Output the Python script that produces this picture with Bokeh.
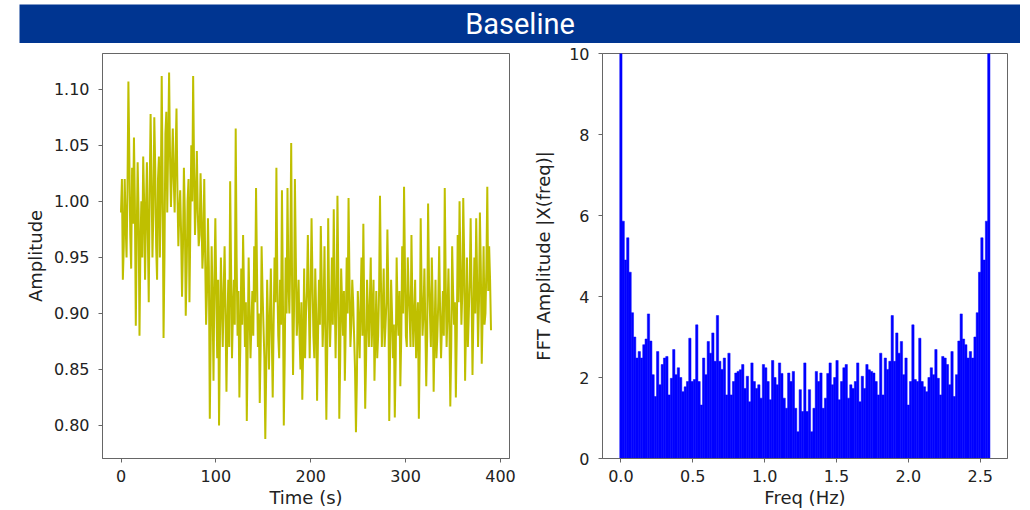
from bokeh.plotting import figure
from bokeh.layouts import column, row
from bokeh.models import Range1d, FixedTicker, PrintfTickFormatter
from bokeh.core.properties import value
from bokeh.embed import file_html
from bokeh.resources import INLINE

TITLE = "Baseline"
BANNER_COLOR = "#003591"
LINE_COLOR = "#bfbf00"
BAR_COLOR = "#0000ff"
TEXT_COLOR = "#222222"
FRAME_COLOR = "#666666"

# ---- time series (seconds, amplitude) ----
sample_step_s = 0.975
amplitude = [
    0.99, 1.02, 0.93, 0.96, 1.02, 0.98, 0.95, 1.01, 1.107, 1.04, 0.97, 0.94, 1.03, 0.98, 1.057, 1.00, 0.889, 0.97, 1.035, 0.99, 0.88, 0.96,
    1.00, 0.95, 1.04, 1.00, 0.93, 0.99, 1.035, 0.97, 0.91, 1.01, 1.078, 1.02, 0.95, 0.99, 1.075, 1.03, 0.96, 0.93, 1.02, 1.04,
    0.95, 1.00, 1.112, 1.02, 0.878, 0.95, 1.06, 1.08, 0.99, 1.05, 1.115, 1.04, 0.995, 1.03, 1.065, 1.02, 0.99, 1.04, 1.083, 1.01,
    0.96, 0.99, 1.01, 0.97, 0.915, 0.96, 1.03, 0.99, 0.898, 0.94, 1.00, 1.02, 0.91, 0.98, 1.05, 1.00, 1.112, 1.03, 0.97, 1.00,
    1.045, 0.99, 0.96, 0.97, 1.025, 0.99, 0.94, 0.96, 1.02, 0.95, 0.89, 0.92, 0.985, 0.94, 0.806, 0.88, 0.96, 0.91, 0.84, 0.93,
    0.985, 0.92, 0.86, 0.93, 0.80, 0.88, 0.95, 0.91, 0.87, 0.92, 0.96, 0.90, 0.83, 0.89, 0.93, 0.87, 1.018, 0.94, 0.86, 0.90,
    0.93, 0.89, 1.065, 0.95, 0.88, 0.92, 0.825, 0.87, 0.94, 0.89, 0.97, 0.92, 0.87, 0.91, 0.804, 0.87, 0.95, 0.90, 0.86, 0.89,
    0.92, 0.88, 0.96, 0.91, 1.012, 0.94, 0.87, 0.90, 0.82, 0.87, 0.96, 0.92, 0.89, 0.86, 0.788, 0.85, 0.93, 0.89, 0.85, 0.90,
    0.94, 0.88, 0.825, 0.89, 0.95, 0.91, 1.03, 0.93, 0.88, 0.86, 0.93, 0.89, 1.01, 0.92, 0.80, 0.86, 0.95, 0.90, 1.012, 0.93,
    0.90, 0.95, 1.052, 0.92, 0.845, 0.90, 1.02, 0.95, 0.88, 0.90, 0.93, 0.88, 0.85, 0.91, 0.823, 0.87, 0.94, 0.86, 0.90, 0.92,
    0.97, 0.91, 0.86, 0.92, 0.985, 0.93, 0.88, 0.86, 0.94, 0.90, 0.822, 0.88, 0.93, 0.89, 0.978, 0.93, 0.87, 0.90, 0.96, 0.88,
    0.805, 0.87, 0.985, 0.91, 0.87, 0.90, 0.95, 0.89, 0.993, 0.92, 0.86, 0.91, 1.005, 0.93, 0.806, 0.86, 0.94, 0.91, 0.88, 0.92,
    0.84, 0.89, 0.95, 0.90, 1.003, 0.93, 0.87, 0.89, 0.93, 0.91, 0.88, 0.85, 0.794, 0.84, 0.92, 0.89, 0.86, 0.91, 0.95, 0.88,
    0.98, 0.90, 0.815, 0.86, 0.93, 0.90, 0.87, 0.91, 0.95, 0.87, 0.90, 0.93, 0.84, 0.88, 0.92, 0.86, 0.88, 0.92, 1.005, 0.93,
    0.87, 0.90, 0.94, 0.87, 0.89, 0.91, 0.975, 0.92, 0.804, 0.87, 0.93, 0.90, 0.86, 0.89, 0.807, 0.86, 0.95, 0.90, 0.88, 0.92,
    0.835, 0.88, 0.96, 0.90, 1.013, 0.94, 0.88, 0.87, 0.95, 0.92, 0.90, 0.87, 0.97, 0.91, 0.87, 0.90, 0.93, 0.86, 0.89, 0.91,
    0.806, 0.87, 0.985, 0.92, 0.88, 0.90, 0.94, 0.89, 0.835, 0.88, 0.998, 0.93, 0.90, 0.87, 0.95, 0.91, 0.83, 0.88, 0.93, 0.86,
    0.88, 0.91, 0.96, 0.90, 0.86, 0.89, 0.92, 0.88, 1.012, 0.93, 0.87, 0.90, 0.94, 0.89, 0.817, 0.87, 0.96, 0.92, 0.89, 0.91,
    0.825, 0.88, 0.97, 0.91, 1.0, 0.94, 0.89, 0.92, 1.003, 0.95, 0.84, 0.89, 0.95, 0.87, 0.90, 0.93, 0.985, 0.92, 0.845, 0.90,
    0.95, 0.90, 0.985, 0.93, 0.87, 0.91, 0.99, 0.94, 0.855, 0.90, 0.96, 0.89, 0.90, 0.94, 1.013, 0.92, 0.96, 0.93, 0.885,
]
time_s = [i * sample_step_s for i in range(len(amplitude))]

time_ticks = [0, 100, 200, 300, 400]
amp_ticks = [0.80, 0.85, 0.90, 0.95, 1.00, 1.05, 1.10]

# ---- FFT magnitude (Hz, |X(freq)|) ----
freq_step_hz = 0.016
fft_amp = [
    12.0, 5.86, 4.9, 5.45, 4.6, 3.6, 3.0, 2.48, 2.64, 2.48,
    2.81, 2.95, 3.57, 2.9, 2.07, 1.53, 2.64, 1.82, 2.32, 2.48,
    2.52, 1.57, 1.98, 2.69, 2.07, 2.24, 2.0, 1.65, 1.77, 1.9,
    2.97, 1.90, 1.95, 3.30, 1.90, 1.32, 2.48, 2.07, 2.89, 2.6,
    3.10, 2.40, 3.53, 2.40, 2.2, 2.48, 1.57, 2.60, 1.57, 1.90,
    2.11, 2.15, 2.19, 2.32, 1.73, 2.03, 1.40, 2.36, 1.9, 1.73,
    1.82, 1.49, 2.32, 2.24, 1.9, 1.45, 2.42, 2.0, 1.82, 2.36,
    2.1, 1.49, 1.24, 2.11, 1.9, 2.15, 1.24, 0.66, 1.7, 1.16,
    2.36,
    1.16, 1.7, 0.66, 1.24, 2.15, 1.9, 2.11, 1.24, 1.49, 2.1,
    2.36, 1.82, 2.0, 2.42, 1.45, 1.9, 2.24, 2.32, 1.49, 1.82,
    1.73, 1.9, 2.36, 1.40, 2.03, 1.73, 2.32, 2.19, 2.15, 2.11,
    1.90, 1.57, 2.60, 1.57, 2.48, 2.2, 2.40, 3.53, 2.40, 3.10,
    2.6, 2.89, 2.07, 2.48, 1.32, 1.90, 3.30, 1.95, 1.90, 2.97,
    1.9, 1.77, 1.65, 2.0, 2.24, 2.07, 2.69, 1.98, 1.57, 2.52,
    2.48, 2.32, 1.82, 2.64, 1.53, 2.07, 2.9, 3.57, 2.95, 2.81,
    2.48, 2.64, 2.48, 3.0, 3.6, 4.6, 5.45, 4.9, 5.86, 12.0,
]
freq_hz = [k * freq_step_hz for k in range(len(fft_amp))]

freq_ticks = [0.0, 0.5, 1.0, 1.5, 2.0, 2.5]
fft_ticks = [0, 2, 4, 6, 8, 10]

TICK_FONT = "DejaVu Sans"


def style(p):
    p.xgrid.visible = False
    p.ygrid.visible = False
    p.outline_line_color = FRAME_COLOR
    p.outline_line_width = 1
    p.background_fill_color = "white"
    p.border_fill_color = "white"
    for ax in (p.xaxis[0], p.yaxis[0]):
        ax.axis_line_color = FRAME_COLOR
        ax.major_tick_line_color = FRAME_COLOR
        ax.major_tick_out = 4
        ax.major_tick_in = 0
        ax.minor_tick_line_color = None
        ax.major_label_text_font = TICK_FONT
        ax.major_label_text_font_size = "16px"
        ax.major_label_text_color = TEXT_COLOR
        ax.axis_label_text_font = TICK_FONT
        ax.axis_label_text_font_size = "18px"
        ax.axis_label_text_font_style = "normal"
        ax.axis_label_text_color = TEXT_COLOR
    p.xaxis[0].major_label_standoff = 7
    p.xaxis[0].axis_label_standoff = 2
    p.yaxis[0].major_label_standoff = 9
    p.yaxis[0].axis_label_standoff = 5


# ---- banner ----
banner = figure(width=1001, height=39, x_range=Range1d(0, 1), y_range=Range1d(0, 1),
                toolbar_location=None, output_backend="svg", min_border=0,
                x_axis_location=None, y_axis_location=None, margin=(4, 0, 0, 19))
banner.xgrid.visible = False
banner.ygrid.visible = False
banner.background_fill_color = BANNER_COLOR
banner.border_fill_color = BANNER_COLOR
banner.outline_line_color = None
banner.text(x=[0.5], y=[0.5], text=[TITLE], text_align="center", text_baseline="middle",
            text_color="white", text_font_size="29px", text_font=value("Roboto"))

# ---- time series ----
p1 = figure(frame_width=407, frame_height=405,
            x_range=Range1d(-19.5, 409.5), y_range=Range1d(0.7705, 1.132),
            toolbar_location=None, output_backend="svg",
            min_border_left=102, min_border_right=21, min_border_top=10, min_border_bottom=46,
            x_axis_label="Time (s)", y_axis_label="Amplitude")
p1.line(time_s, amplitude, line_color=LINE_COLOR, line_width=2.0)
style(p1)
p1.xaxis[0].ticker = FixedTicker(ticks=time_ticks)
p1.yaxis[0].ticker = FixedTicker(ticks=amp_ticks)
p1.yaxis[0].formatter = PrintfTickFormatter(format="%.2f")

# ---- FFT ----
p2 = figure(frame_width=405, frame_height=405,
            x_range=Range1d(-0.128, 2.69), y_range=Range1d(0, 10),
            toolbar_location=None, output_backend="svg",
            min_border_left=70, min_border_right=10, min_border_top=10, min_border_bottom=46,
            x_axis_label="Freq (Hz)", y_axis_label="FFT Amplitude |X(freq)|")
p2.vbar(x=freq_hz, top=fft_amp, bottom=0, width=freq_step_hz,
        fill_color=BAR_COLOR, line_color=BAR_COLOR, line_width=0.5)
style(p2)
p2.xaxis[0].ticker = FixedTicker(ticks=freq_ticks)
p2.xaxis[0].formatter = PrintfTickFormatter(format="%.1f")
p2.yaxis[0].ticker = FixedTicker(ticks=fft_ticks)
p2.yaxis[0].axis_label_standoff = 12

layout = column(banner, row(p1, p2))

with open("out.html", "w") as f:
    f.write(file_html(layout, INLINE))
